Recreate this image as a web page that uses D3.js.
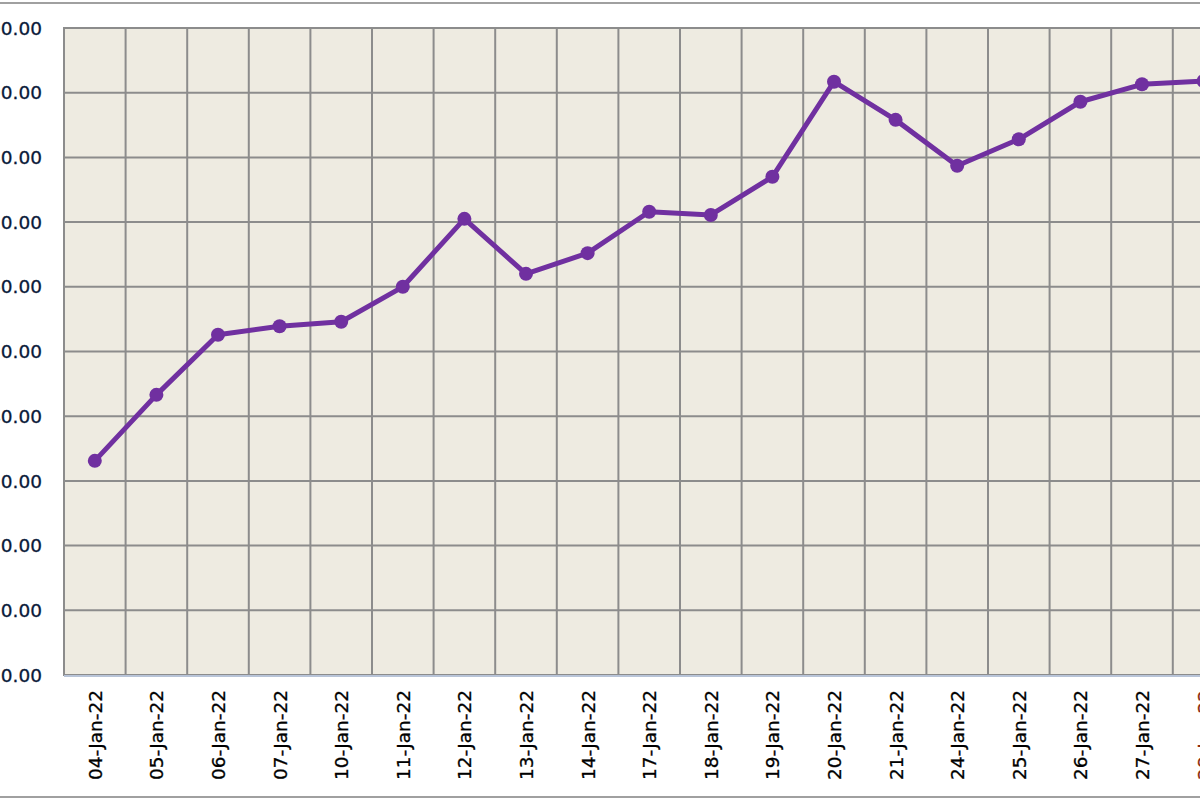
<!DOCTYPE html>
<html>
<head>
<meta charset="utf-8">
<script src="https://cdn.jsdelivr.net/npm/d3@7"></script>
<style>
  html, body { margin: 0; padding: 0; background: #fff; overflow: hidden; }
  svg { display: block; }
</style>
</head>
<body>
<script>
const WIDTH = 1200, HEIGHT = 800;
// plot area (the chart is cropped on the left and right in the picture)
const margin = {left: 64, top: 28, bottom: 125};
const BAND = 61.6;

const dates = ["04-Jan-22","05-Jan-22","06-Jan-22","07-Jan-22","10-Jan-22","11-Jan-22",
    "12-Jan-22","13-Jan-22","14-Jan-22","17-Jan-22","18-Jan-22","19-Jan-22","20-Jan-22",
    "21-Jan-22","24-Jan-22","25-Jan-22","26-Jan-22","27-Jan-22","28-Jan-22"];
const values = [33.1, 43.3, 52.6, 53.9, 54.6, 60.0, 70.5, 62.0, 65.2, 71.6, 71.1,
    77.0, 91.7, 85.8, 78.7, 82.8, 88.6, 91.3, 91.8];
const yTicks = [0, 10, 20, 30, 40, 50, 60, 70, 80, 90, 100];
const highlightDate = "28-Jan-22";

function main() {
    let svg = d3.select("body").append("svg")
        .attr("width", WIDTH)
        .attr("height", HEIGHT);

    // outer frame lines (top and bottom)
    svg.append("line").attr("x1", 0).attr("x2", WIDTH).attr("y1", 3).attr("y2", 3)
        .style("stroke", "#a0a0a0").style("stroke-width", 2);
    svg.append("line").attr("x1", 0).attr("x2", WIDTH).attr("y1", 797).attr("y2", 797)
        .style("stroke", "#a0a0a0").style("stroke-width", 2);

    let plotW = BAND * dates.length;
    let plotB = HEIGHT - margin.bottom;

    let x = d3.scaleBand().domain(dates).range([margin.left, margin.left + plotW]);
    let y = d3.scaleLinear().domain([0, 100]).range([plotB, margin.top]);

    svg.append("rect")
        .attr("x", margin.left).attr("y", margin.top)
        .attr("width", plotW).attr("height", plotB - margin.top)
        .style("fill", "#eeebe1")
        .style("stroke", "#8c8c8c").style("stroke-width", 2);

    // horizontal grid
    svg.append("g").selectAll("line").data(yTicks).enter().append("line")
        .attr("x1", margin.left).attr("x2", margin.left + plotW)
        .attr("y1", d => y(d)).attr("y2", d => y(d))
        .style("stroke", "#8c8c8c").style("stroke-width", 2);

    // vertical grid at band edges
    svg.append("g").selectAll("line").data(dates.slice(1)).enter().append("line")
        .attr("x1", d => x(d)).attr("x2", d => x(d))
        .attr("y1", margin.top).attr("y2", plotB)
        .style("stroke", "#8c8c8c").style("stroke-width", 2);

    // bottom axis line
    svg.append("line")
        .attr("x1", margin.left).attr("x2", margin.left + plotW)
        .attr("y1", plotB + 1).attr("y2", plotB + 1)
        .style("stroke", "#b8c4d8").style("stroke-width", 2);

    // y labels
    svg.append("g").selectAll("text").data(yTicks).enter().append("text")
        .attr("x", 42).attr("y", d => y(d))
        .attr("dy", "0.36em")
        .attr("text-anchor", "end")
        .style("font-family", "'DejaVu Sans', Verdana, sans-serif")
        .style("font-size", "18.5px")
        .style("fill", "#0a1a3a")
        .style("stroke", "#0a1a3a").style("stroke-width", 0.3)
        .text(d3.format(".2f"));

    // x labels (rotated)
    svg.append("g").selectAll("text").data(dates).enter().append("text")
        .attr("transform", d => `translate(${x(d) + x.bandwidth() / 2 + 7},${plotB + 15}) rotate(-90)`)
        .attr("text-anchor", "end")
        .style("font-family", "'DejaVu Sans', Verdana, sans-serif")
        .style("font-size", "18.5px")
        .style("fill", d => d === highlightDate ? "#8b2a10" : "#000")
        .style("stroke", d => d === highlightDate ? "#8b2a10" : "#000")
        .style("stroke-width", 0.3)
        .text(d => d);

    // line + markers
    let cx = (d, i) => x(dates[i]) + x.bandwidth() / 2;
    let line = d3.line().x(cx).y(d => y(d));
    svg.append("path").datum(values)
        .attr("d", line)
        .style("fill", "none")
        .style("stroke", "#7030a0")
        .style("stroke-width", 5)
        .style("stroke-linejoin", "round");

    svg.append("g").selectAll("circle").data(values).enter().append("circle")
        .attr("cx", cx).attr("cy", d => y(d))
        .attr("r", 7)
        .style("fill", "#7030a0");
}
main();
</script>
</body>
</html>
